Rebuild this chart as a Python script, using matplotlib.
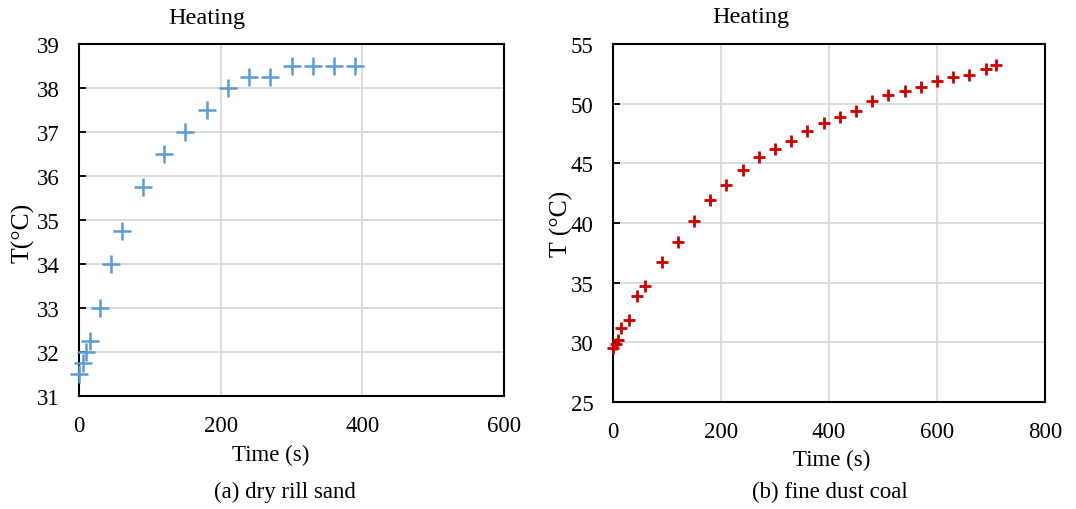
import matplotlib
matplotlib.use("Agg")
import matplotlib.pyplot as plt

plt.rcParams['font.family'] = ['Liberation Serif', 'DejaVu Serif']

# (a) dry rill sand
time_a = [0, 5, 10, 15, 30, 45, 60, 90, 120, 150, 180, 210, 240, 270, 300, 330, 360, 390]
temp_a = [31.5, 31.75, 32.0, 32.25, 33.0, 34.0, 34.75, 35.75, 36.5, 37.0, 37.5, 38.0,
          38.25, 38.25, 38.5, 38.5, 38.5, 38.5]

# (b) fine dust coal
time_b = [0, 5, 10, 15, 30, 45, 60, 90, 120, 150, 180, 210, 240, 270, 300, 330, 360,
          390, 420, 450, 480, 510, 540, 570, 600, 630, 660, 690, 710]
temp_b = [29.5, 29.9, 30.2, 31.2, 31.9, 33.9, 34.7, 36.75, 38.4, 40.2, 41.9, 43.2, 44.4,
          45.5, 46.2, 46.9, 47.7, 48.4, 48.9, 49.4, 50.2, 50.7, 51.1, 51.4, 51.9, 52.2,
          52.4, 52.9, 53.2]

W, H = 1076, 510
fig = plt.figure(figsize=(W / 100, H / 100), dpi=100)

def px_axes(left, top, right, bottom):
    return fig.add_axes([left / W, 1 - bottom / H, (right - left) / W, (bottom - top) / H])

def style(ax, xlim, ylim, xticks, yticks):
    ax.set_xlim(*xlim)
    ax.set_ylim(*ylim)
    ax.set_xticks(xticks)
    ax.set_yticks(yticks)
    ax.grid(True, color='#d9d9d9', lw=1.3)
    ax.set_axisbelow(True)
    for s in ax.spines.values():
        s.set_linewidth(1.5)
    ax.tick_params(axis='y', direction='in', length=5, width=1.3, pad=14, labelsize=16.5)
    ax.tick_params(axis='x', length=0, pad=14, labelsize=16.5)

ax1 = px_axes(79, 45, 504, 397)
ax1.plot(time_a, temp_a, '+', color='#5b9bd5', ms=13, mew=1.8, clip_on=False, zorder=3)
style(ax1, (0, 600), (31, 39), range(0, 601, 200), range(31, 40))
ax1.set_xlabel('Time (s)', fontsize=16.5, va='center')
ax1.xaxis.set_label_coords(0.45, -0.165)
ax1.set_ylabel('T(°C)', fontsize=18.5, va='center')
ax1.yaxis.set_label_coords(-0.132, 0.466)
ax1.text(0.30, 1.075, 'Heating', transform=ax1.transAxes, ha='center', va='center', fontsize=17.5)

ax2 = px_axes(613, 45, 1045, 403)
ax2.plot(time_b, temp_b, '+', color='#cc0000', ms=8.5, mew=2.0, clip_on=False, zorder=3)
style(ax2, (0, 800), (25, 55), range(0, 801, 200), range(25, 56, 5))
ax2.set_xlabel('Time (s)', fontsize=16.5, va='center')
ax2.xaxis.set_label_coords(0.507, -0.16)
ax2.set_ylabel('T (°C)', fontsize=18.5, va='center')
ax2.yaxis.set_label_coords(-0.12, 0.50)
ax2.text(0.32, 1.076, 'Heating', transform=ax2.transAxes, ha='center', va='center', fontsize=17.5)

fig.text(285 / W, 1 - 492 / H, '(a) dry rill sand', ha='center', va='center', fontsize=16.5)
fig.text(830 / W, 1 - 492 / H, '(b) fine dust coal', ha='center', va='center', fontsize=16.5)

fig.savefig('out.png', dpi=100)
